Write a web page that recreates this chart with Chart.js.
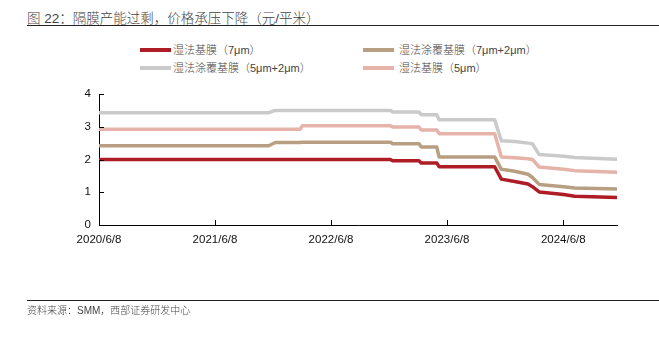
<!DOCTYPE html>
<html>
<head>
<meta charset="utf-8">
<script src="https://cdn.jsdelivr.net/npm/chart.js@4.4.1/dist/chart.umd.min.js"></script>
<style>
  body { margin: 0; background: #fff; width: 659px; height: 340px; position: relative; overflow: hidden;
         font-family: "Liberation Sans", "Noto Sans CJK SC", sans-serif; color: #222; }
  #wrap { position: absolute; left: 0; top: 0; width: 659px; height: 340px; }
  .title { position: absolute; left: 27px; top: 7px; font-size: 13.5px; color: #444; font-weight: 300; white-space: nowrap; }
  .rule { position: absolute; left: 27px; right: 0; height: 1px; background: #222; }
  .src { position: absolute; left: 27px; top: 302px; font-size: 10px; color: #444; font-weight: 300; white-space: nowrap; }
  .lg { position: absolute; font-size: 11px; color: #444; font-weight: 300; white-space: nowrap; line-height: 14px; }
  .lg i { position: absolute; height: 4px; width: 31px; top: 5px; }
  .lg span { position: absolute; top: 0; }
</style>
</head>
<body>
<div class="title">图 22：隔膜产能过剩，价格承压下降（元/平米）</div>
<div class="rule" style="top:25px"></div>
<div id="legend"></div>
<div id="wrap"><canvas id="chart" width="659" height="340"></canvas></div>
<div class="rule" style="top:300px"></div>
<div class="src">资料来源：SMM，西部证券研发中心</div>

<script>
// dates where prices change
const dates = ['2020/6/8', '2021/11/24', '2021/12/15', '2022/3/3', '2022/3/10', '2022/12/12', '2022/12/19',
  '2023/3/12', '2023/3/19', '2023/5/7', '2023/5/14', '2023/11/5', '2023/11/26', '2024/1/7', '2024/2/18',
  '2024/3/3', '2024/3/24', '2024/6/9', '2024/7/14', '2024/11/24'];

const wet7 =    [2.00, 2.00, 2.00, 2.00, 2.00, 2.00, 1.96, 1.96, 1.89, 1.89, 1.78, 1.78, 1.40, 1.33, 1.25, 1.17, 1.01, 0.93, 0.88, 0.84];
const coat7_2 = [2.42, 2.42, 2.52, 2.52, 2.53, 2.53, 2.48, 2.48, 2.38, 2.38, 2.08, 2.08, 1.70, 1.64, 1.55, 1.45, 1.24, 1.17, 1.13, 1.10];
const coat5_2 = [3.43, 3.43, 3.50, 3.50, 3.50, 3.50, 3.45, 3.45, 3.37, 3.37, 3.21, 3.21, 2.57, 2.55, 2.50, 2.48, 2.15, 2.10, 2.06, 2.01];
const wet5 =    [2.92, 2.92, 2.92, 2.92, 3.03, 3.03, 2.99, 2.99, 2.90, 2.90, 2.79, 2.79, 2.08, 2.05, 2.02, 2.00, 1.77, 1.70, 1.66, 1.61];

const seriesNames = ['湿法基膜（7μm）', '湿法涂覆基膜（7μm+2μm）', '湿法涂覆基膜（5μm+2μm）', '湿法基膜（5μm）'];
const seriesColors = ['#AE1C26', '#B89F82', '#CACACA', '#E5B3A9'];
const xTickLabels = ['2020/6/8', '2021/6/8', '2022/6/8', '2023/6/8', '2024/6/8'];
const yTicks = [0, 1, 2, 3, 4];

// day offset from first date
function dayOf(s) {
  const p = s.split('/').map(Number);
  const base = Date.UTC(2020, 5, 8);
  return Math.round((Date.UTC(p[0], p[1] - 1, p[2]) - base) / 86400000);
}

function pts(vals) {
  return vals.map((v, i) => ({ x: dayOf(dates[i]), y: v }));
}

// legend, laid out in two columns like the original
const legendPos = [[140, 43], [363, 43], [140, 61], [363, 61]];
const lgBox = document.getElementById('legend');
seriesNames.forEach((n, i) => {
  const d = document.createElement('div');
  d.className = 'lg';
  d.style.left = legendPos[i][0] + 'px';
  d.style.top = legendPos[i][1] + 'px';
  d.innerHTML = '<i style="left:0;background:' + seriesColors[i] + '"></i><span style="left:' + (i % 2 ? 36 : 33) + 'px">' + n + '</span>';
  lgBox.appendChild(d);
});

// small tick marks pointing into the plot
const innerTicks = {
  id: 'innerTicks',
  afterDraw(chart) {
    const ctx = chart.ctx, a = chart.chartArea;
    const xs = chart.scales.x, ys = chart.scales.y;
    ctx.save();
    ctx.strokeStyle = '#000';
    ctx.lineWidth = 1;
    ctx.beginPath();
    xTickLabels.forEach(l => {
      const px = Math.round(xs.getPixelForValue(dayOf(l))) + 0.5;
      ctx.moveTo(px, a.bottom);
      ctx.lineTo(px, a.bottom - 5);
    });
    yTicks.forEach(v => {
      const py = Math.round(ys.getPixelForValue(v)) + 0.5;
      ctx.moveTo(a.left, py);
      ctx.lineTo(a.left + 5, py);
    });
    ctx.stroke();
    ctx.restore();
  }
};

const data = {
  datasets: [
    { label: seriesNames[0], data: pts(wet7), borderColor: seriesColors[0] },
    { label: seriesNames[1], data: pts(coat7_2), borderColor: seriesColors[1] },
    { label: seriesNames[2], data: pts(coat5_2), borderColor: seriesColors[2] },
    { label: seriesNames[3], data: pts(wet5), borderColor: seriesColors[3] }
  ]
};
data.datasets.forEach(ds => {
  ds.borderWidth = 3.5;
  ds.pointRadius = 0;
  ds.tension = 0;
  ds.fill = false;
  ds.borderJoinStyle = 'round';
});

const ctx = document.getElementById('chart');
new Chart(ctx, {
  type: 'line',
  data: data,
  plugins: [innerTicks],
  options: {
    responsive: false,
    animation: false,
    layout: { padding: { left: 59, top: 94, right: 42, bottom: 90 } },
    plugins: { legend: { display: false }, tooltip: { enabled: false } },
    scales: {
      x: {
        type: 'linear',
        min: 0,
        max: dayOf(dates[dates.length - 1]),
        afterBuildTicks: s => { s.ticks = xTickLabels.map(l => ({ value: dayOf(l) })); },
        afterFit: s => { s.height = 25; },
        grid: { drawOnChartArea: false, drawTicks: false },
        border: { display: true, color: '#000', width: 1 },
        ticks: {
          padding: 8,
          color: '#111',
          font: { family: 'Liberation Sans', size: 11.5 },
          maxRotation: 0,
          callback: v => {
            const l = xTickLabels.find(t => dayOf(t) === v);
            return l || '';
          }
        }
      },
      y: {
        min: 0,
        max: 4,
        afterFit: s => { s.width = 40; },
        grid: { drawOnChartArea: false, drawTicks: false },
        border: { display: true, color: '#000', width: 1 },
        ticks: {
          stepSize: 1,
          padding: 8,
          color: '#111',
          font: { family: 'Liberation Sans', size: 11.5 }
        }
      }
    }
  }
});
</script>
</body>
</html>
